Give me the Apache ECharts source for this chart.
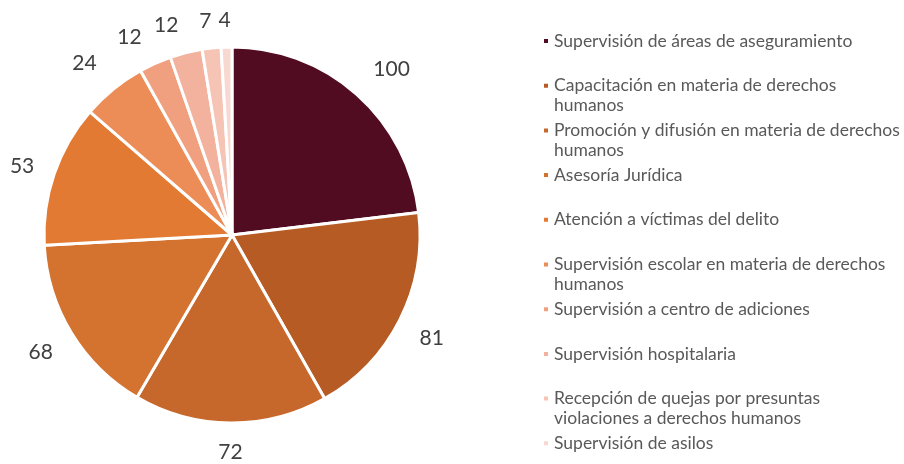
<!DOCTYPE html>
<html>
<head>
<meta charset="utf-8">
<script src="https://cdn.jsdelivr.net/npm/echarts@6/dist/echarts.min.js"></script>
<style>
  html, body { margin: 0; padding: 0; background: #fff; }
  #chart { width: 904px; height: 464px; }
</style>
</head>
<body>
<div id="chart"></div>
<script>
// Activities and the number of actions recorded for each
const categories = [
  'Supervisión de áreas de aseguramiento',
  'Capacitación en materia de derechos humanos',
  'Promoción y difusión en materia de derechos humanos',
  'Asesoría Jurídica',
  'Atención a víctimas del delito',
  'Supervisión escolar en materia de derechos humanos',
  'Supervisión a centro de adiciones',
  'Supervisión hospitalaria',
  'Recepción de quejas por presuntas violaciones a derechos humanos',
  'Supervisión de asilos'
];
const values = [100, 81, 72, 68, 53, 24, 12, 12, 7, 4];

// Legend text as it wraps in the side panel
const legendText = [
  'Supervisión de áreas de aseguramiento',
  'Capacitación en materia de derechos\nhumanos',
  'Promoción y difusión en materia de derechos\nhumanos',
  'Asesoría Jurídica',
  'Atención a víctimas del delito',
  'Supervisión escolar en materia de derechos\nhumanos',
  'Supervisión a centro de adiciones',
  'Supervisión hospitalaria',
  'Recepción de quejas por presuntas\nviolaciones a derechos humanos',
  'Supervisión de asilos'
];

const palette = [
  '#520C21', '#B65B23', '#C6682B', '#D4722F', '#E27A33',
  '#EC8D57', '#F0A07F', '#F3B29D', '#F5C4B5', '#F8D9D1'
];

// Small per-label nudges (px) so crowded labels spread out a little
const labelNudge = [
  [9, 4], [1, 3], [0, 0], [-1, 1], [0, 3],
  [-7, 1], [-12, 4], [-12, 4], [-3, 3], [-1, 3]
];

const FONT = 'Lato, "Open Sans", sans-serif';
const LINE_H = 20;
const LEGEND_FIRST = 41;   // vertical centre of the first legend row
const LEGEND_STEP = 44.7;  // distance between legend rows

const PIE_CENTER = [232, 235];
const PIE_RADIUS = 188;
const LABEL_GAP = 19;      // clearance between the rim and a value label

// One legend block per row so every row keeps its own slot.
// Two-line entries get a leading blank line, which keeps the marker
// level with the first line of text.
const legends = categories.map((name, i) => {
  const twoLines = legendText[i].indexOf('\n') >= 0;
  const rowCenter = LEGEND_FIRST + i * LEGEND_STEP;
  return {
    data: [name],
    orient: 'vertical',
    left: 542,
    top: twoLines ? rowCenter - 1.5 * LINE_H : rowCenter - LINE_H / 2,
    padding: 0,
    icon: 'rect',
    itemWidth: 6,
    itemHeight: 6,
    itemGap: 0,
    selectedMode: false,
    formatter: () => (twoLines ? '\n' : '') + legendText[i],
    textStyle: {
      fontFamily: FONT,
      fontSize: 17.5,
      color: '#595959',
      lineHeight: LINE_H
    }
  };
});

// Value labels sit just beyond the rim, centred on each slice's mid-angle.
const total = values.reduce((a, b) => a + b, 0);
const midAngles = [];
values.reduce((acc, v) => {
  midAngles.push(Math.PI / 2 - ((acc + v / 2) / total) * 2 * Math.PI);
  return acc + v;
}, 0);

function placeLabel(params) {
  const i = params.dataIndex;
  const a = midAngles[i];
  const dx = Math.cos(a), dy = -Math.sin(a);
  const w = params.labelRect.width, h = params.labelRect.height;
  const half = Math.abs(dx) * w / 2 + Math.abs(dy) * h / 2;
  const d = PIE_RADIUS + LABEL_GAP + half;
  return {
    x: PIE_CENTER[0] + dx * d + labelNudge[i][0],
    y: PIE_CENTER[1] + dy * d + labelNudge[i][1],
    align: 'center',
    verticalAlign: 'middle'
  };
}

const chart = echarts.init(document.getElementById('chart'), null, { renderer: 'canvas' });
chart.setOption({
  backgroundColor: '#ffffff',
  animation: false,
  color: palette,
  legend: legends,
  series: [{
    type: 'pie',
    center: PIE_CENTER,
    radius: PIE_RADIUS,
    startAngle: 90,
    clockwise: true,
    avoidLabelOverlap: false,
    itemStyle: { borderColor: '#ffffff', borderWidth: 3 },
    label: {
      show: true,
      position: 'outside',
      formatter: '{c}',
      fontFamily: FONT,
      fontSize: 21,
      color: '#404040'
    },
    labelLine: { show: false, length: 20, length2: 0 },
    labelLayout: placeLabel,
    emphasis: { disabled: true },
    data: categories.map((name, i) => ({ name: name, value: values[i] }))
  }]
});
</script>
</body>
</html>
